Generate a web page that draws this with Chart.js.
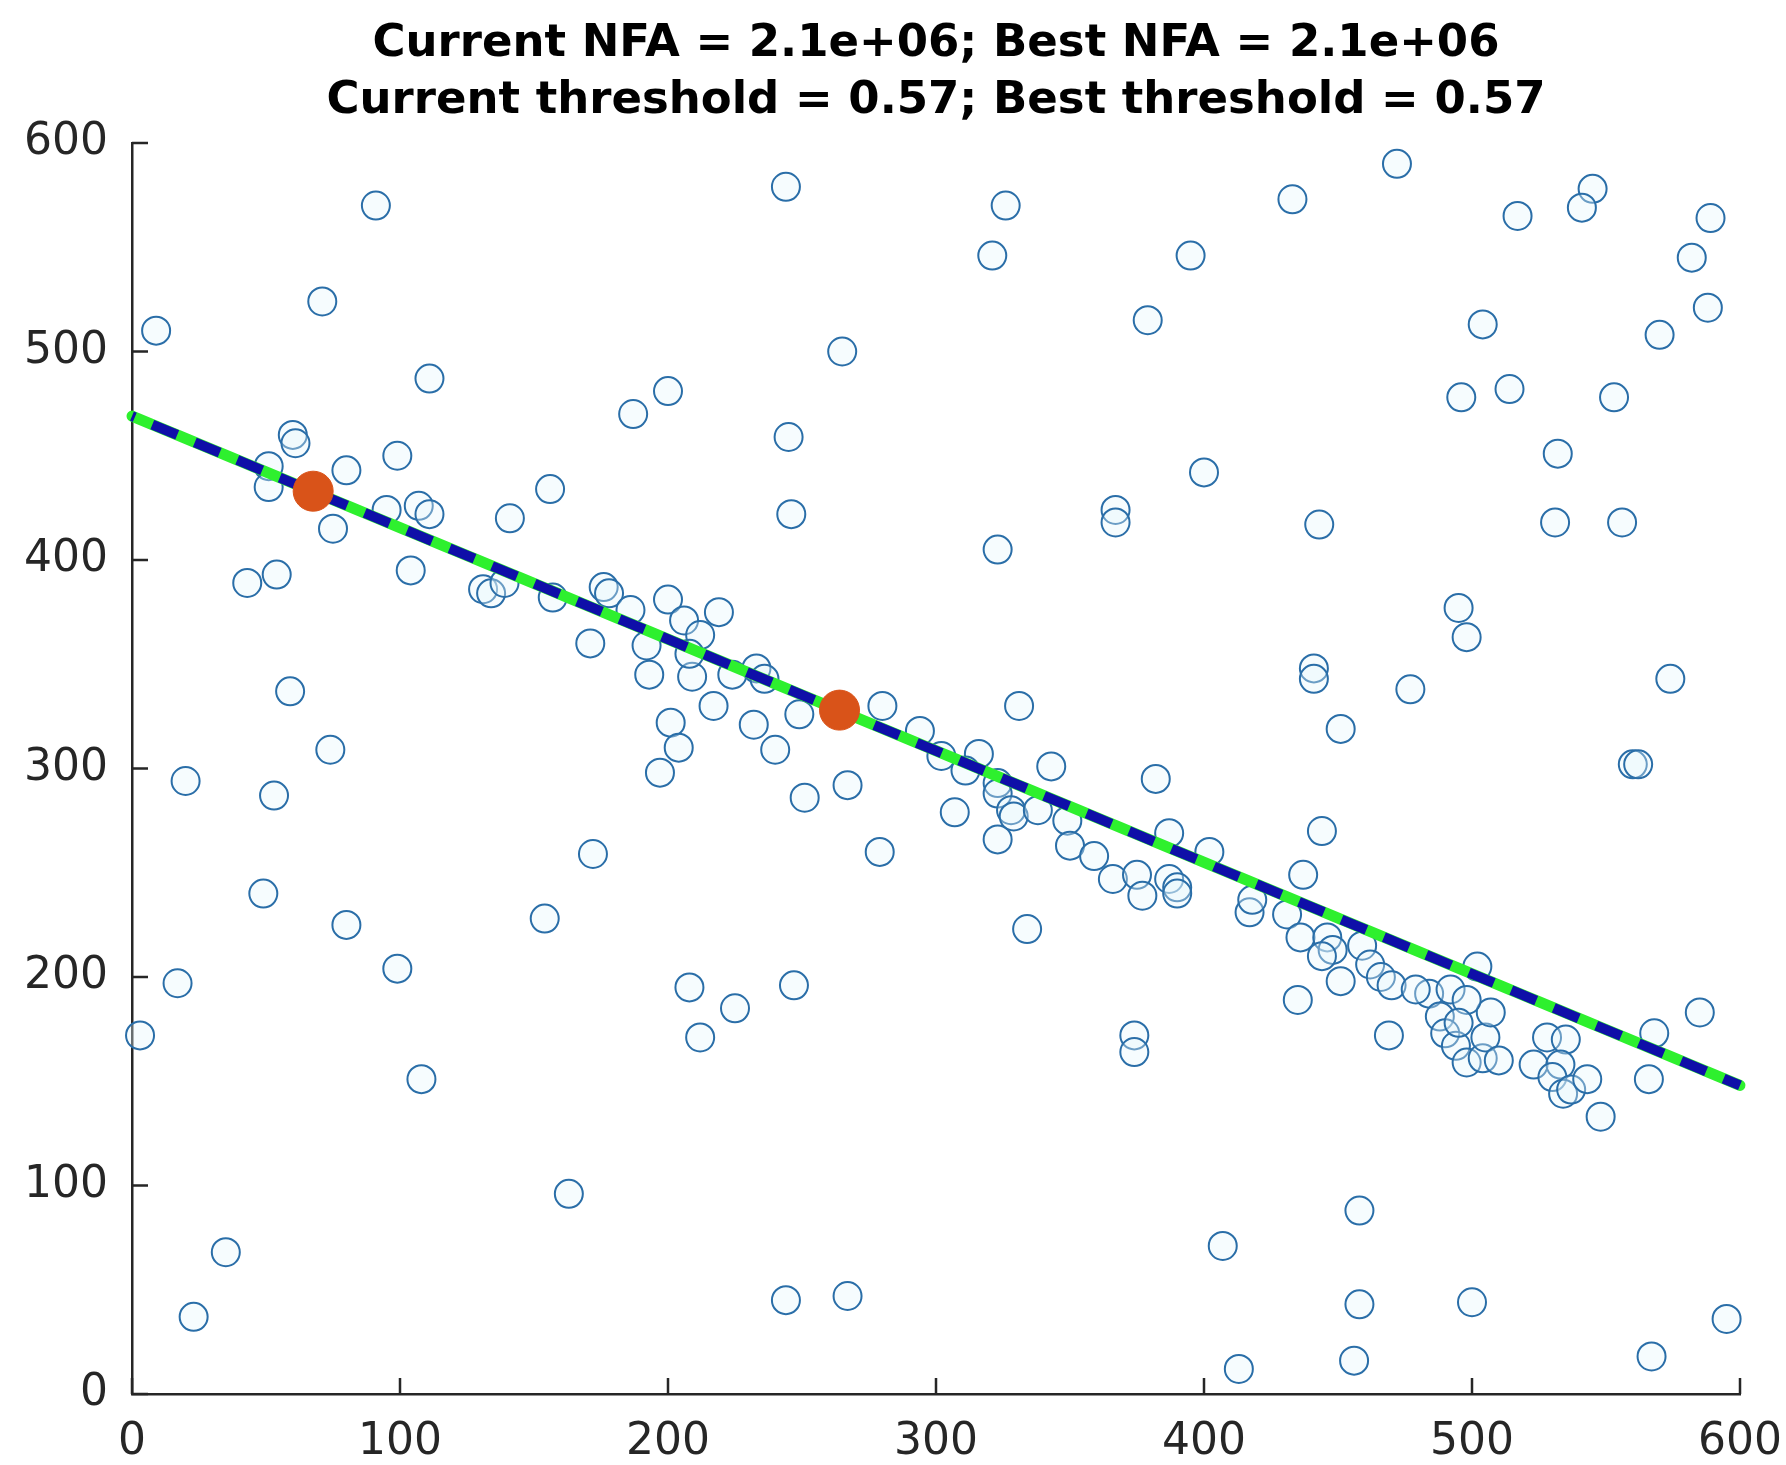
<!DOCTYPE html>
<html>
<head>
<meta charset="utf-8">
<script src="https://cdn.jsdelivr.net/npm/chart.js@4/dist/chart.umd.min.js"></script>
<style>
html,body{margin:0;padding:0;background:#fff;}
#wrap{width:1786px;height:1465px;}
</style>
</head>
<body>
<div id="wrap"><canvas id="c" width="1786" height="1465"></canvas></div>
<script>
const titleLines = ["Current NFA = 2.1e+06; Best NFA = 2.1e+06", "Current threshold = 0.57; Best threshold = 0.57"];
const tickValues = [0, 100, 200, 300, 400, 500, 600];

// scattered candidate points (x, y)
const pointsX = [
  9,91,71,111,60,61,51,51,80,99,75,95,107,111,141,
  43,54,104,131,134,139,
  59,74,20,53,49,80,99,17,154,3,108,35,23,
  244,265,200,187,245,246,156,
  326,321,395,433,379,400,367,367,443,323,
  472,517,545,541,589,582,588,570,504,496,514,553,532,531,556,
  157,176,178,186,200,206,219,212,171,192,193,209,208,224,233,236,217,201,204,197,232,240,249,280,294,251,267,279,172,208,247,225,212,163,244,267,
  302,316,311,323,323,328,329,307,323,338,349,350,359,366,375,377,387,390,390,387,402,334,417,418,431,437,444,436,446,448,444,435,451,
  331,343,382,
  441,441,451,495,498,477,574,560,562,
  374,374,407,413,
  459,462,466,470,469,484,492,488,490,494,498,504,505,510,507,498,495,479,502,523,528,535,533,530,534,537,543,548,566,568,585,
  458,458,456,500,567,595
];
const pointsY = [
  510,570,524,487,460,456,445,435,443,450,415,424,426,422,420,
  389,393,395,386,384,389,
  337,309,294,287,240,225,204,197,228,172,151,68,37,
  579,500,481,470,459,422,434,
  570,546,546,573,515,442,424,418,417,405,
  590,565,578,569,564,545,521,508,513,478,482,478,451,418,418,
  382,387,384,376,381,371,375,364,360,359,345,344,355,345,348,343,330,322,310,298,321,309,326,330,318,286,292,260,259,195,196,185,171,96,45,47,
  306,307,299,293,288,280,277,279,266,280,275,263,258,247,249,239,247,243,240,269,260,223,231,237,230,249,270,219,219,213,210,189,198,
  330,301,295,
  348,343,319,377,363,338,343,302,302,
  172,164,71,12,
  215,206,200,196,172,192,194,181,173,167,159,161,171,160,183,189,178,194,205,158,171,170,158,152,144,146,151,133,151,173,183,
  88,43,16,44,18,36
];

// fitted line (two end points) and the two sampled points
const lineX = [0, 600];
const lineY = [469, 148];
const sampleX = [67.6, 264];
const sampleY = [433, 328];

const toXY = (xs, ys) => xs.map((x, i) => ({x: x, y: ys[i]}));

const innerTicks = {
  id: 'innerTicks',
  afterDraw(chart) {
    const ctx = chart.ctx;
    const xs = chart.scales.x, ys = chart.scales.y;
    const len = 16;
    ctx.save();
    ctx.strokeStyle = '#262626';
    ctx.lineWidth = 2.5;
    ctx.beginPath();
    tickValues.forEach(v => {
      const px = xs.getPixelForValue(v);
      ctx.moveTo(px, ys.bottom);
      ctx.lineTo(px, ys.bottom - len);
      const py = ys.getPixelForValue(v);
      ctx.moveTo(xs.left, py);
      ctx.lineTo(xs.left + len, py);
    });
    ctx.stroke();
    ctx.restore();
  }
};

const tickFont = { family: '"DejaVu Sans", sans-serif', size: 44 };

new Chart(document.getElementById('c'), {
  type: 'scatter',
  data: {
    datasets: [
      {
        label: 'samples',
        data: toXY(sampleX, sampleY),
        pointRadius: 20,
        pointBackgroundColor: '#D95319',
        pointBorderColor: '#D95319',
        pointBorderWidth: 1,
        showLine: false,
        order: 0,
        clip: false
      },
      {
        label: 'best',
        type: 'line',
        data: toXY(lineX, lineY),
        borderColor: '#0f0fa8',
        borderWidth: 10,
        borderDash: [27, 19],
        borderDashOffset: 24,
        borderCapStyle: 'butt',
        pointRadius: 0,
        fill: false,
        order: 1,
        clip: false
      },
      {
        label: 'current',
        type: 'line',
        data: toXY(lineX, lineY),
        borderColor: '#2ef02e',
        borderWidth: 11,
        borderCapStyle: 'round',
        pointRadius: 0,
        fill: false,
        order: 2,
        clip: false
      },
      {
        label: 'points',
        data: toXY(pointsX, pointsY),
        pointRadius: 14,
        pointStyle: 'circle',
        pointBackgroundColor: 'rgba(228,245,252,0.35)',
        pointBorderColor: '#2a6ea8',
        pointBorderWidth: 2,
        order: 3,
        clip: false
      }
    ]
  },
  options: {
    responsive: false,
    devicePixelRatio: 1,
    animation: false,
    layout: { padding: { left: 0, right: 46, top: 0, bottom: 0 } },
    plugins: {
      legend: { display: false },
      tooltip: { enabled: false },
      title: {
        display: true,
        fullSize: false,
        text: titleLines,
        color: '#000000',
        font: { family: '"DejaVu Sans", sans-serif', size: 45, weight: 'bold', lineHeight: 1.27 },
        padding: { top: 16, bottom: 12.7 }
      }
    },
    scales: {
      x: {
        type: 'linear',
        min: 0, max: 600,
        afterFit(s) { s.height = 71; s.paddingLeft = 0; s.paddingRight = 0; },
        grid: { display: false, drawTicks: false },
        border: { display: true, color: '#262626', width: 2.5 },
        ticks: {
          stepSize: 100,
          padding: 22,
          color: '#262626',
          font: tickFont
        }
      },
      y: {
        type: 'linear',
        min: 0, max: 600,
        afterFit(s) { s.width = 132; s.paddingTop = 0; s.paddingBottom = 0; },
        grid: { display: false, drawTicks: false },
        border: { display: true, color: '#262626', width: 2.5 },
        ticks: {
          stepSize: 100,
          padding: 24,
          color: '#262626',
          font: tickFont
        }
      }
    }
  },
  plugins: [innerTicks]
});
</script>
</body>
</html>
